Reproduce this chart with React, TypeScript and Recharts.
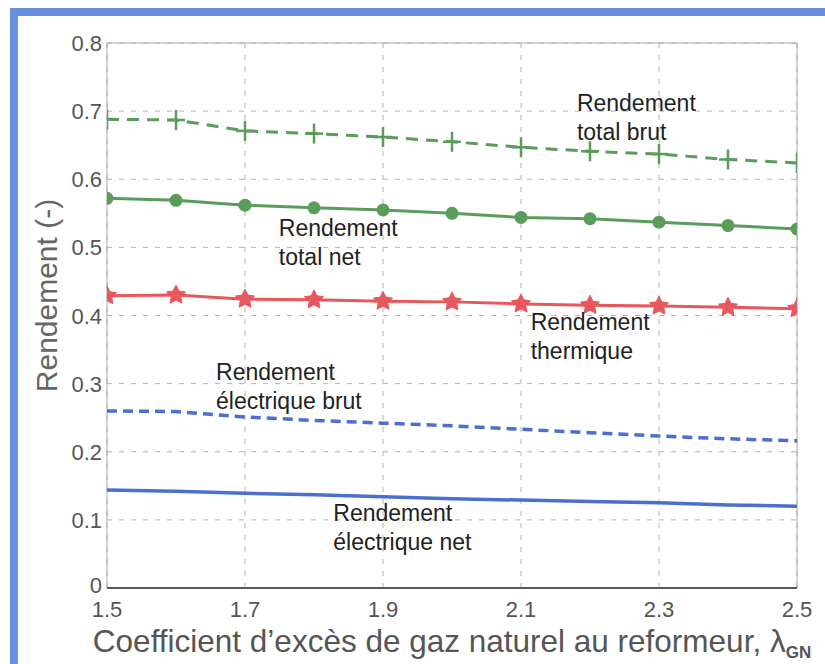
import React from 'react';
import {
  LineChart,
  Line,
  XAxis,
  YAxis,
  CartesianGrid,
  ReferenceArea,
  ReferenceDot,
} from 'recharts';

// Coefficient d'excès de gaz naturel (lambda GN)
const lambdaGN = [1.5, 1.6, 1.7, 1.8, 1.9, 2.0, 2.1, 2.2, 2.3, 2.4, 2.5];

const totalBrut = [0.688, 0.687, 0.671, 0.667, 0.662, 0.655, 0.647, 0.641, 0.637, 0.629, 0.624];
const totalNet = [0.572, 0.569, 0.562, 0.558, 0.555, 0.55, 0.544, 0.542, 0.537, 0.532, 0.527];
const thermique = [0.429, 0.43, 0.424, 0.423, 0.421, 0.42, 0.417, 0.415, 0.414, 0.412, 0.41];
const electriqueBrut = [0.26, 0.259, 0.251, 0.246, 0.242, 0.238, 0.233, 0.228, 0.223, 0.219, 0.216];
const electriqueNet = [0.144, 0.142, 0.139, 0.137, 0.134, 0.131, 0.129, 0.127, 0.125, 0.122, 0.12];

const xTicks = [1.5, 1.7, 1.9, 2.1, 2.3, 2.5];
const yTicks = [0, 0.1, 0.2, 0.3, 0.4, 0.5, 0.6, 0.7, 0.8];

// curve labels, anchored in data units (left edge, first baseline)
const annotations = [
  { x: 2.181, y: 0.7, lines: ['Rendement', 'total brut'] },
  { x: 1.749, y: 0.517, lines: ['Rendement', 'total net'] },
  { x: 2.114, y: 0.379, lines: ['Rendement', 'thermique'] },
  { x: 1.658, y: 0.305, lines: ['Rendement', 'électrique brut'] },
  { x: 1.828, y: 0.098, lines: ['Rendement', 'électrique net'] },
];

const data = lambdaGN.map((x, i) => ({
  x,
  totalBrut: totalBrut[i],
  totalNet: totalNet[i],
  thermique: thermique[i],
  electriqueBrut: electriqueBrut[i],
  electriqueNet: electriqueNet[i],
}));

const GREEN = '#5a9c5a';
const RED = '#e8575c';
const BLUE = '#4a6fd0';
const FONT = '"Liberation Sans", Arial, Helvetica, sans-serif';

const PlusDot = (props: any) => {
  const { cx, cy, index } = props;
  if (cx == null || cy == null) return null;
  return (
    <g key={`p-${index}`}>
      <line x1={cx - 9} y1={cy} x2={cx + 9} y2={cy} stroke={GREEN} strokeWidth={2.5} />
      <line x1={cx} y1={cy - 10} x2={cx} y2={cy + 10} stroke={GREEN} strokeWidth={2.5} />
    </g>
  );
};

const CircleDot = (props: any) => {
  const { cx, cy, index } = props;
  if (cx == null || cy == null) return null;
  return <circle key={`c-${index}`} cx={cx} cy={cy} r={6.5} fill={GREEN} />;
};

const StarDot = (props: any) => {
  const { cx, cy, index } = props;
  if (cx == null || cy == null) return null;
  const pts = [];
  for (let k = 0; k < 10; k++) {
    const r = k % 2 === 0 ? 10 : 5;
    const a = -Math.PI / 2 + (k * Math.PI) / 5;
    pts.push(`${cx + r * Math.cos(a)},${cy + r * Math.sin(a)}`);
  }
  return <polygon key={`s-${index}`} points={pts.join(' ')} fill={RED} stroke={RED} strokeWidth={1} />;
};

const XTick = ({ x, y, payload }: any) => (
  <text x={x} y={y + 27} textAnchor="middle" fontSize={22} fill="#555" fontFamily={FONT}>
    {payload.value.toFixed(1)}
  </text>
);

const YTick = ({ x, y, payload }: any) => (
  <text
    x={x}
    y={y + (payload.value === 0 ? 5 : 8)}
    textAnchor="end"
    fontSize={22}
    fill="#555"
    fontFamily={FONT}
  >
    {payload.value === 0 ? '0' : payload.value.toFixed(1)}
  </text>
);

const XLabel = ({ viewBox }: any) => {
  const cx = viewBox.x + viewBox.width / 2;
  return (
    <text x={cx} y={viewBox.y + 64} textAnchor="middle" fontSize={31.5} fill="#555" fontFamily={FONT}>
      Coefficient d’excès de gaz naturel au reformeur, λ
      <tspan fontSize={17} fontWeight="bold" dy={6}>GN</tspan>
    </text>
  );
};

const YLabel = ({ viewBox }: any) => {
  const cx = 46;
  const cy = viewBox.y + viewBox.height / 2 - 20;
  return (
    <text
      x={cx}
      y={cy}
      transform={`rotate(-90 ${cx} ${cy})`}
      textAnchor="middle"
      dominantBaseline="central"
      fontSize={30}
      fill="#666"
      fontFamily={FONT}
    >
      Rendement (-)
    </text>
  );
};

const AnnotationText = (lines: string[]) => (props: any) => {
  const { cx, cy } = props;
  if (cx == null || cy == null) return null;
  return (
    <text x={cx} y={cy} fontSize={23} fill="#222" fontFamily={FONT}>
      {lines.map((t, i) => (
        <tspan key={i} x={cx} dy={i === 0 ? 0 : 29}>
          {t}
        </tspan>
      ))}
    </text>
  );
};

export default function App() {
  return (
    <div style={{ position: 'absolute', left: 0, top: 0, width: 825, height: 664, background: '#fff' }}>
      <div
        style={{
          position: 'absolute',
          left: 10,
          top: 8,
          right: 0,
          bottom: 0,
          borderLeft: '8px solid #6a8fdc',
          borderTop: '8px solid #6a8fdc',
        }}
      />
      <div style={{ position: 'absolute', left: 0, top: 0 }}>
        <LineChart width={825} height={664} data={data} margin={{ top: 43, right: 28, bottom: 0, left: 0 }}>
          <CartesianGrid
            stroke="#b4b4b4"
            strokeDasharray="5 7"
            horizontalValues={yTicks}
            verticalValues={xTicks}
          />
          <XAxis
            dataKey="x"
            type="number"
            domain={[1.5, 2.5]}
            ticks={xTicks}
            allowDataOverflow
            tickSize={0}
            tickLine={false}
            axisLine={{ stroke: '#333', strokeWidth: 1.5 }}
            tick={<XTick />}
            height={76}
            label={<XLabel />}
          />
          <YAxis
            type="number"
            domain={[0, 0.8]}
            ticks={yTicks}
            allowDataOverflow
            width={107}
            tickSize={0}
            tickMargin={5}
            tickLine={false}
            axisLine={false}
            tick={<YTick />}
            label={<YLabel />}
          />
          <ReferenceArea x1={1.5} x2={2.5} y1={0} y2={0.8} fill="none" stroke="#aaa" strokeWidth={1} />
          <Line
            type="linear"
            dataKey="totalBrut"
            stroke={GREEN}
            strokeWidth={3}
            strokeDasharray="12 8"
            dot={PlusDot}
            isAnimationActive={false}
          />
          <Line
            type="linear"
            dataKey="totalNet"
            stroke={GREEN}
            strokeWidth={3}
            dot={CircleDot}
            isAnimationActive={false}
          />
          <Line
            type="linear"
            dataKey="thermique"
            stroke={RED}
            strokeWidth={3}
            dot={StarDot}
            isAnimationActive={false}
          />
          <Line
            type="linear"
            dataKey="electriqueBrut"
            stroke={BLUE}
            strokeWidth={3.5}
            strokeDasharray="10 6"
            dot={false}
            isAnimationActive={false}
          />
          <Line
            type="linear"
            dataKey="electriqueNet"
            stroke={BLUE}
            strokeWidth={3.5}
            dot={false}
            isAnimationActive={false}
          />
          {annotations.map((a, i) => (
            <ReferenceDot
              key={i}
              x={a.x}
              y={a.y}
              r={0}
              ifOverflow="visible"
              shape={AnnotationText(a.lines)}
            />
          ))}
        </LineChart>
      </div>
    </div>
  );
}
